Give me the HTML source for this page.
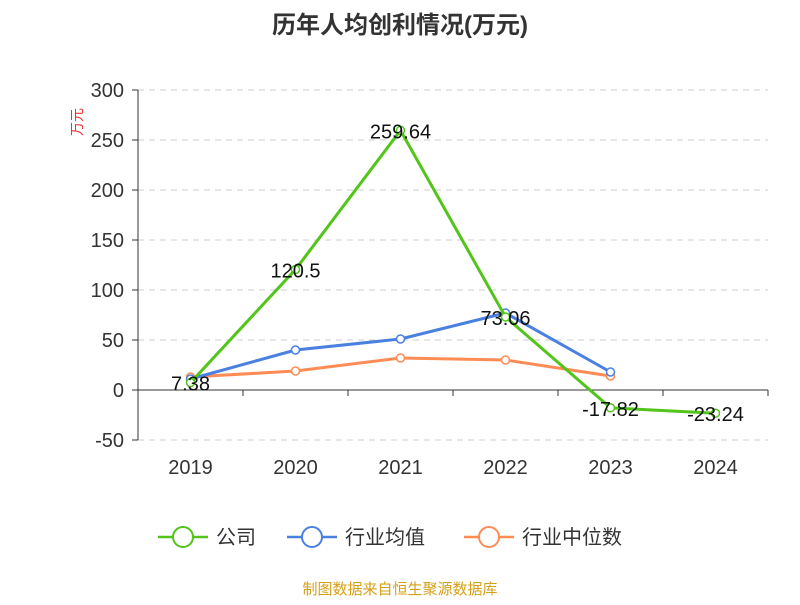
<!DOCTYPE html>
<html><head><meta charset="utf-8"><style>
body{margin:0;background:#fff;width:800px;height:600px;overflow:hidden;font-family:"Liberation Sans","Noto Sans CJK SC",sans-serif}
</style></head><body>
<svg width="800" height="600" xmlns="http://www.w3.org/2000/svg">
<text x="400" y="33" text-anchor="middle" font-size="24" font-weight="bold" fill="#333" font-family="Liberation Sans,Noto Sans CJK SC,sans-serif">历年人均创利情况(万元)</text>
<text transform="translate(82,122) rotate(-90)" text-anchor="middle" font-size="14" fill="#e33" font-family="Liberation Sans,Noto Sans CJK SC,sans-serif">万元</text>
<g id="grid"></g><g id="axes"></g><g id="series"></g>
<g font-size="20" fill="#333" font-family="Liberation Sans,Noto Sans CJK SC,sans-serif">
<g><line x1="158" y1="537" x2="208" y2="537" stroke="#52c41a" stroke-width="2.5"/><circle cx="183" cy="537" r="10" fill="#fff" stroke="#52c41a" stroke-width="2"/><text x="216" y="544">公司</text></g>
<g><line x1="287" y1="537" x2="337" y2="537" stroke="#4a80e0" stroke-width="2.5"/><circle cx="312" cy="537" r="10" fill="#fff" stroke="#4a80e0" stroke-width="2"/><text x="345" y="544">行业均值</text></g>
<g><line x1="464" y1="537" x2="514" y2="537" stroke="#ff8c55" stroke-width="2.5"/><circle cx="489" cy="537" r="10" fill="#fff" stroke="#ff8c55" stroke-width="2"/><text x="522" y="544">行业中位数</text></g>
</g>
<text x="400" y="594" text-anchor="middle" font-size="15" fill="#d4a017" font-family="Liberation Sans,Noto Sans CJK SC,sans-serif">制图数据来自恒生聚源数据库</text>
</svg>
<script>
const categories=["2019","2020","2021","2022","2023","2024"];
const company=[7.38,120.5,259.64,73.06,-17.82,-23.24];
const industryAvg=[11,40,51,77,18,null];
const industryMedian=[13,19,32,30,14,null];
const yTicks=[300,250,200,150,100,50,0,-50];
const NS="http://www.w3.org/2000/svg";
const x0=138,step=105;
function xs(i){return x0+step*(i+0.5);}
function ys(v){return 390-v;}
function mk(tag,attrs,parent){const e=document.createElementNS(NS,tag);for(const k in attrs)e.setAttribute(k,attrs[k]);parent.appendChild(e);return e;}
const grid=document.getElementById('grid'),axes=document.getElementById('axes'),ser=document.getElementById('series');
yTicks.forEach(t=>{
 if(t!==0){const l=mk('line',{x1:x0,x2:768,y1:ys(t),y2:ys(t),stroke:'#ccc','stroke-dasharray':'6,5'},grid);
 
 }
 mk('line',{x1:x0-6,x2:x0,y1:ys(t),y2:ys(t),stroke:'#333'},axes);
 const tx=mk('text',{x:x0-14,y:ys(t)+7,'text-anchor':'end','font-size':20,fill:'#333'},axes);
 tx.textContent=t;
 
 
});
mk('line',{x1:x0,x2:x0,y1:ys(300),y2:ys(-50),stroke:'#333'},axes);
mk('line',{x1:x0,x2:768,y1:ys(0),y2:ys(0),stroke:'#333'},axes);
categories.forEach((c,i)=>{
 mk('line',{x1:x0+step*i,x2:x0+step*i,y1:ys(0),y2:ys(0)+6,stroke:'#333'},axes);
 const tx=mk('text',{x:xs(i),y:474,'text-anchor':'middle','font-size':20,fill:'#333'},axes);
 tx.textContent=c;
 
 
});
mk('line',{x1:768,x2:768,y1:ys(0),y2:ys(0)+6,stroke:'#333'},axes);
function draw(data,color,name,labels){
 const pts=[];data.forEach((v,i)=>{if(v!==null)pts.push([xs(i),ys(v),v]);});
 const p=mk('polyline',{points:pts.map(q=>q[0]+','+q[1]).join(' '),fill:'none',stroke:color,'stroke-width':3},ser);
 
 
 pts.forEach(q=>{const c=mk('circle',{cx:q[0],cy:q[1],r:4,fill:'#fff',stroke:color,'stroke-width':1.5},ser);
  
  
  if(labels){const t=mk('text',{x:q[0],y:q[1]+8,'text-anchor':'middle','font-size':20,fill:'#111'},ser);
   t.textContent=q[2];
   
   }
 });
}
draw(industryMedian,'#ff8c55','industry-median',false);
draw(industryAvg,'#4a80e0','industry-avg',false);
draw(company,'#52c41a','company',true);
</script>
</body></html>
